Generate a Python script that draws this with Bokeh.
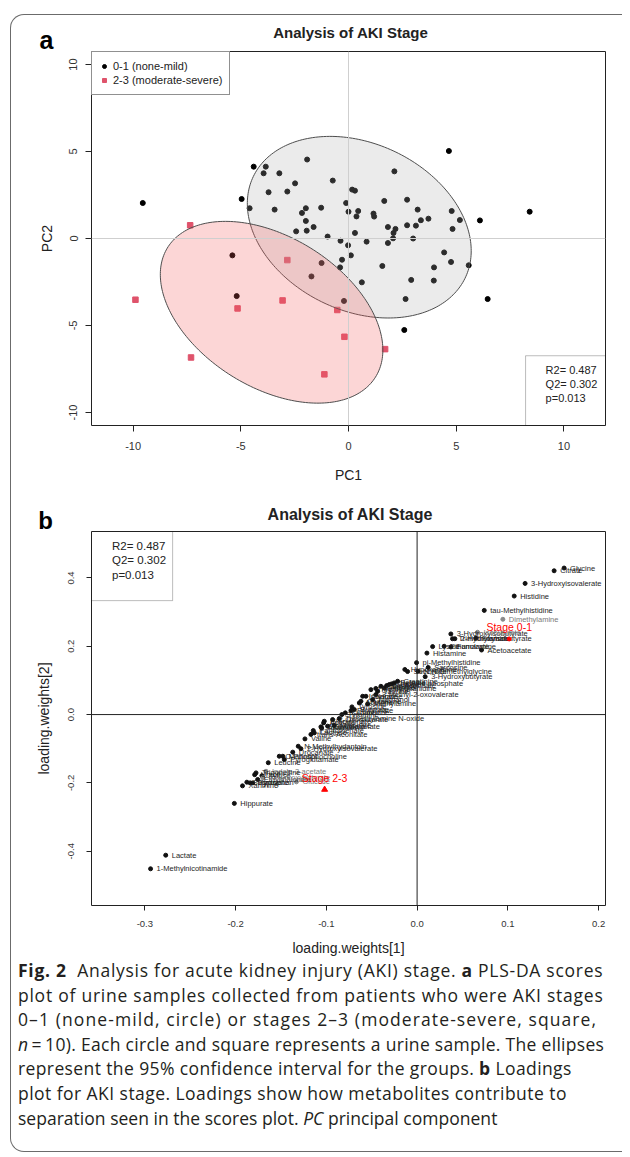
import numpy as np
from bokeh.plotting import figure
from bokeh.models import (ColumnDataSource, Range1d, FixedTicker, Label, BoxAnnotation,
                          Span, Legend, LegendItem, Div)
from bokeh.layouts import column
from bokeh.embed import file_html
from bokeh.resources import INLINE
from bokeh.core.properties import value

# ---------------- data: panel a (PLS-DA scores) ----------------
mild_pc1 = [-9.55, -4.40, -3.84, -3.94, -3.21, -1.92, -3.71, -2.84, -2.48, -4.96, -4.59, -3.43,
            -1.98, -2.16, -1.27, -0.73, 0.17, 0.30, -0.11, 0.00, 0.45, 0.37, -1.98, -2.43,
            -1.94, -1.62, -0.97, -0.37, -0.02, 0.30, 0.84, 1.16, 1.19, 1.66, 2.13, 1.83,
            1.83, 2.09, 2.18, 2.07, 2.72, 2.72, 3.21, 3.13, 3.36, 3.71, 3.00, 4.66,
            4.79, 5.17, 4.83, 4.44, 4.76, 3.97, 5.58, 6.10, 8.41, 1.57, 2.91, 3.96,
            0.11, -0.30, -0.39, -1.25, -1.72, 0.62, -5.39, -5.19, -0.21, 2.65, 6.46, 2.59]
mild_pc2 = [2.04, 4.13, 4.13, 3.75, 3.75, 4.54, 2.66, 2.70, 3.17, 2.27, 1.74, 1.66,
            1.74, 1.47, 1.77, 3.33, 2.81, 2.75, 2.04, 1.54, 1.58, 1.27, 1.01, 0.41,
            0.45, 0.66, 0.11, -0.13, -0.39, 0.32, -0.18, 1.43, 1.26, 2.16, 3.86, 0.66,
            -0.26, 0.32, 0.55, 0.01, 0.76, 2.23, 1.66, 0.74, 1.05, 1.14, 0.00, 5.03,
            1.58, 1.06, 0.55, -0.80, -1.35, -1.66, -1.54, 1.04, 1.54, -1.58, -2.38, -2.42,
            -0.97, -1.22, -1.66, -1.41, -2.18, -2.52, -0.97, -3.31, -3.59, -3.48, -3.48, -5.26]
severe_pc1 = [-7.35, -2.84, -9.89, -5.15, -3.06, -0.52, -0.19, 1.70, -7.31, -1.12]
severe_pc2 = [0.76, -1.24, -3.52, -4.02, -3.56, -4.11, -5.65, -6.36, -6.84, -7.81]

# 95% confidence ellipses (centre and shape matrix) for the two groups
ellipse_mild_center = [0.50, 0.65]
ellipse_mild_shape = [[27.0, -7.07], [-7.07, 27.25]]
ellipse_severe_center = [-3.57, -4.24]
ellipse_severe_shape = [[26.68, -11.21], [-11.21, 27.3]]

legend_labels = ["0-1 (none-mild)", "2-3 (moderate-severe)"]
stats_text = ["R2= 0.487", "Q2= 0.302", "p=0.013"]
pc_ticks = [-10, -5, 0, 5, 10]
pc_tick_labels = ["-10", "-5", "0", "5", "10"]
panel_title = "Analysis of AKI Stage"
panel_letters = ["a", "b"]

# ---------------- data: panel b (loadings) ----------------
metabolites = [
    "Glycine", "Citrate", "3-Hydroxyisovalerate", "Histidine", "tau-Methylhistidine", "Dimethylamine",
    "3-Hydroxyisobutyrate", "Isobutyrate", "Trimethylamine", "2-Hydroxyisobutyrate", "Formate",
    "Lysine", "Ethanolamine", "Fumarate", "Acetoacetate", "Histamine", "pi-Methylhistidine",
    "Sarcosine", "Hypoxanthine", "Succinate", "N,N-Dimethylglycine", "3-Hydroxybutyrate",
    "Creatine phosphate", "Creatinine", "Betaine", "Choline", "cis-Aconitate", "Carnitine", "Alanine",
    "Methylguanidine", "Threonine", "Taurine", "3-Methyl-2-oxovalerate", "Isoleucine", "Tartrate",
    "Methanol", "Glutamine", "Acetone", "Methylamine", "Tyrosine", "Butyrate", "Propionate",
    "Kynurenine", "Tyramine", "Trimethylamine N-oxide", "2-Oxoglutarate", "Glucuronate", "Acetate",
    "Glycolate", "Malonate", "Guanidoacetate", "Allantoin", "Pantothenate", "Lactose",
    "trans-Aconitate", "Valine", "N-Methylhydantoin", "2-Hydroxyisovalerate", "Urocanate",
    "O-Phosphocholine", "Mannitol", "Pyroglutamate", "Leucine", "Indole-3-acetate", "Xylose",
    "Trigonelline", "Uracil", "Ethylmalonate", "2-Hydroxybutyrate", "Glucose", "Pyruvate",
    "Tryptophan", "Sucrose", "Xanthine", "Hippurate", "Lactate", "1-Methylnicotinamide"]
weights_1 = [
    0.162, 0.151, 0.119, 0.107, 0.074, 0.0945,
    0.0372, 0.0666, 0.039, 0.0416, 0.0648,
    0.0171, 0.0298, 0.0372, 0.071, 0.0108, -0.0006,
    0.0122, -0.0135, -0.0105, 0.001, 0.0089,
    -0.0281, -0.0215, -0.0252, -0.0307, -0.0335, -0.0399, -0.0362,
    -0.0455, -0.0509, -0.0435, -0.0454, -0.060, -0.0564,
    -0.049, -0.0619, -0.0637, -0.0545, -0.0718, -0.0692, -0.0729,
    -0.0791, -0.083, -0.0858, -0.0931, -0.1023, -0.103,
    -0.0986, -0.0913, -0.106, -0.1052, -0.1144, -0.1133,
    -0.117, -0.1236, -0.131, -0.128, -0.137,
    -0.1519, -0.148, -0.1463, -0.164, -0.1665, -0.171,
    -0.1775, -0.179, -0.1757, -0.170, -0.133, -0.181,
    -0.184, -0.1876, -0.1924, -0.2014, -0.277, -0.2937]
weights_2 = [
    0.429, 0.421, 0.384, 0.347, 0.305, 0.279,
    0.236, 0.241, 0.222, 0.222, 0.224,
    0.199, 0.200, 0.198, 0.189, 0.180, 0.152,
    0.138, 0.132, 0.126, 0.127, 0.111,
    0.0898, 0.0975, 0.0927, 0.0878, 0.085, 0.0828, 0.078,
    0.0765, 0.073, 0.068, 0.0585, 0.0536, 0.0536,
    0.044, 0.039, 0.034, 0.031, 0.0225, 0.0146, 0.0117,
    0.005, 0.000, -0.0117, -0.0146, -0.0195, -0.0244,
    -0.034, -0.032, -0.036, -0.039, -0.0468, -0.0536,
    -0.058, -0.0712, -0.0927, -0.100, -0.110,
    -0.122, -0.122, -0.1317, -0.141, -0.166, -0.179,
    -0.1707, -0.176, -0.190, -0.185, -0.197, -0.200,
    -0.200, -0.198, -0.2087, -0.260, -0.4117, -0.4515]
grey_metabolites = ["Dimethylamine", "Isobutyrate", "Indole-3-acetate", "2-Hydroxybutyrate", "Glucose"]

stage_names = ["Stage 0-1", "Stage 2-3"]
stage_w1 = [0.1015, -0.1019]
stage_w2 = [0.2215, -0.2195]

lw_x_ticks = [-0.3, -0.2, -0.1, 0.0, 0.1, 0.2]
lw_x_labels = ["-0.3", "-0.2", "-0.1", "0.0", "0.1", "0.2"]
lw_y_ticks = [-0.4, -0.2, 0.0, 0.2, 0.4]
lw_y_labels = ["-0.4", "-0.2", "0.0", "0.2", "0.4"]

caption_lines = [
    "<b>Fig.&nbsp;2</b>&nbsp;&nbsp;Analysis for acute kidney injury (AKI) stage. <b>a</b> PLS-DA scores",
    "plot of urine samples collected from patients who were AKI stages",
    "0&ndash;1 (none-mild, circle) or stages 2&ndash;3 (moderate-severe, square,",
    "<i>n</i>&#8201;=&#8201;10). Each circle and square represents a urine sample. The ellipses",
    "represent the 95% confidence interval for the groups. <b>b</b> Loadings",
    "plot for AKI stage. Loadings show how metabolites contribute to",
    "separation seen in the scores plot. <i>PC</i> principal component"]
caption_spacing = [0.72, 0.75, 1.1, 0.3, 0.39, 0.45, 0.02]   # letter-spacing (px) per line

FONT = "Liberation Sans"
INK = "#222222"
W = 611


def ellipse_xy(center, shape, n=240):
    vals, vecs = np.linalg.eigh(np.array(shape, dtype=float))
    t = np.linspace(0, 2 * np.pi, n)
    circ = np.vstack([np.cos(t), np.sin(t)])
    pts = vecs @ (np.sqrt(vals)[:, None] * circ)
    return center[0] + pts[0], center[1] + pts[1]


def style_axes(p, tick_font, label_font, tick_out, xstand, ystand, ax_standoff_x, ax_standoff_y):
    p.grid.visible = False
    p.outline_line_color = INK
    p.outline_line_width = 1
    p.background_fill_color = "white"
    p.border_fill_color = "white"
    for ax in (p.xaxis[0], p.yaxis[0]):
        ax.axis_line_color = None
        ax.major_tick_line_color = INK
        ax.major_tick_in = 0
        ax.major_tick_out = tick_out
        ax.minor_tick_line_color = None
        ax.major_label_text_font = FONT
        ax.major_label_text_font_size = tick_font
        ax.major_label_text_color = "#333333"
        ax.axis_label_text_font = FONT
        ax.axis_label_text_font_size = label_font
        ax.axis_label_text_font_style = "normal"
        ax.axis_label_text_color = INK
    p.xaxis[0].major_label_standoff = xstand
    p.yaxis[0].major_label_standoff = ystand
    p.xaxis[0].axis_label_standoff = ax_standoff_x
    p.yaxis[0].axis_label_standoff = ax_standoff_y
    p.yaxis[0].major_label_orientation = "vertical"


def header_div(letter, letter_left, letter_top, letter_size, title_center, title_top, title_size, height):
    html = (
        f'<div style="position:relative;width:{W}px;height:{height}px;font-family:\'{FONT}\';color:{INK};">'
        f'<span style="position:absolute;left:{letter_left}px;top:{letter_top}px;width:22px;text-align:center;'
        f'font-size:{letter_size}px;line-height:{letter_size}px;font-weight:bold;color:#000;">{letter}</span>'
        f'<span style="position:absolute;left:{title_center - 120}px;top:{title_top}px;width:240px;'
        f'text-align:center;font-size:{title_size}px;line-height:{title_size}px;font-weight:bold;'
        f'white-space:nowrap;">{panel_title}</span></div>')
    return Div(text=html, width=W, height=height, margin=(0, 0, 0, 0))


# ======================= panel a =======================
head_a = header_div(panel_letters[0], 24.5, 12.8, 25, 339.5, 10, 15, 35)

pa = figure(width=W, height=437, x_range=Range1d(-11.93, 11.93), y_range=Range1d(-10.75, 10.75),
            output_backend="svg", toolbar_location=None, title=None,
            min_border_left=80, min_border_right=17, min_border_top=1, min_border_bottom=62)
style_axes(pa, "11px", "14px", 6, 10, 8, 14, 12)
pa.xaxis.axis_label = "PC1"
pa.yaxis.axis_label = "PC2"
pa.xaxis.ticker = FixedTicker(ticks=pc_ticks)
pa.yaxis.ticker = FixedTicker(ticks=pc_ticks)
pa.xaxis.major_label_overrides = dict(zip(pc_ticks, pc_tick_labels))
pa.yaxis.major_label_overrides = dict(zip(pc_ticks, pc_tick_labels))

pa.add_layout(Span(location=0, dimension="height", line_color="#cfcfcf", line_width=1))
pa.add_layout(Span(location=0, dimension="width", line_color="#cfcfcf", line_width=1))

r_mild = pa.scatter(mild_pc1, mild_pc2, marker="circle", size=5, color="black")
r_sev = pa.scatter(severe_pc1, severe_pc2, marker="square", size=5.5, color="#DF536B")

ex, ey = ellipse_xy(ellipse_mild_center, ellipse_mild_shape)
pa.patch(ex, ey, fill_color="#b0b0b0", fill_alpha=0.25, line_color="#4d4d4d", line_width=1)
ex, ey = ellipse_xy(ellipse_severe_center, ellipse_severe_shape)
pa.patch(ex, ey, fill_color="#f25c5c", fill_alpha=0.25, line_color="#4d4d4d", line_width=1)

leg = Legend(items=[LegendItem(label=legend_labels[0], renderers=[r_mild]),
                    LegendItem(label=legend_labels[1], renderers=[r_sev])],
             location="top_left", margin=0, padding=7, spacing=0, glyph_width=10, glyph_height=14,
             label_height=14, label_standoff=4, label_text_font=FONT, label_text_font_size="11px",
             label_text_color=INK, border_line_color=INK, border_line_width=1,
             background_fill_alpha=1)
pa.add_layout(leg)

pa.add_layout(BoxAnnotation(left=8.22, right=11.93, top=-6.74, bottom=-10.75, fill_alpha=0,
                            line_color=INK, line_width=1))
for i, s in enumerate(stats_text):
    pa.add_layout(Label(x=9.15, y=-7.54 - 0.82 * i, text=s, text_font=FONT, text_font_size="11px",
                        text_color=INK, text_baseline="middle"))

# ======================= panel b =======================
head_b = header_div(panel_letters[1], 23.5, 21.7, 24, 339, 19.5, 16, 43)

pb = figure(width=W, height=428, x_range=Range1d(-0.3588, 0.2076), y_range=Range1d(-0.559, 0.536),
            output_backend="svg", toolbar_location=None, title=None,
            min_border_left=79, min_border_right=17, min_border_top=1, min_border_bottom=53)
style_axes(pb, "9.5px", "14px", 5, 10, 12, 10, 14)
pb.xaxis.axis_label = "loading.weights[1]"
pb.yaxis.axis_label = "loading.weights[2]"
pb.xaxis.ticker = FixedTicker(ticks=lw_x_ticks)
pb.yaxis.ticker = FixedTicker(ticks=lw_y_ticks)
pb.xaxis.major_label_overrides = dict(zip(lw_x_ticks, lw_x_labels))
pb.yaxis.major_label_overrides = dict(zip(lw_y_ticks, lw_y_labels))

pb.add_layout(Span(location=0, dimension="height", line_color=INK, line_width=1))
pb.add_layout(Span(location=0, dimension="width", line_color=INK, line_width=1))

colors = ["#8a8a8a" if m in grey_metabolites else "#111111" for m in metabolites]
tcolors = ["#7a7a7a" if m in grey_metabolites else "#1e1e1e" for m in metabolites]
src = ColumnDataSource(dict(x=weights_1, y=weights_2, name=metabolites, c=colors, tc=tcolors))
pb.scatter("x", "y", source=src, marker="circle", size=4, color="c")
pb.text("x", "y", text="name", source=src, x_offset=6, text_baseline="middle",
        text_font=value(FONT), text_font_size="7.5px", text_color="tc")

st = ColumnDataSource(dict(x=stage_w1, y=stage_w2, name=stage_names, m=["circle", "triangle"],
                           s=[4, 6]))
pb.scatter("x", "y", source=st, marker="m", size="s", color="#ff0000")
pb.text("x", "y", text="name", source=st, y_offset=-12, text_align="center", text_baseline="middle",
        text_font=value(FONT), text_font_size="10.5px", text_color="#ff0000")

pb.add_layout(BoxAnnotation(left=-0.3588, right=-0.2694, top=0.536, bottom=0.3336, fill_alpha=0,
                            line_color=INK, line_width=1))
for i, s in enumerate(stats_text):
    pb.add_layout(Label(x=-0.3362, y=0.4925 - 0.0414 * i, text=s, text_font=FONT,
                        text_font_size="11.5px", text_color=INK, text_baseline="middle"))

# ======================= caption =======================
caption_html = "".join(
    f'<div style="letter-spacing:{ls}px;">{line}</div>' for line, ls in zip(caption_lines, caption_spacing))
cap = Div(text=caption_html, width=W, height=193, margin=(0, 0, 0, 0),
          styles={"font-family": "Open Sans", "font-size": "17.5px", "line-height": "24.6px",
                  "color": "#231f20", "padding-left": "7px", "white-space": "nowrap"})

root = column(head_a, pa, head_b, pb, cap,
              styles={"border-left": "1.5px solid #6b6b6b", "border-top": "1.5px solid #6b6b6b",
                      "border-bottom": "1.5px solid #6b6b6b", "border-radius": "14px 0 0 14px",
                      "margin-left": "10px", "margin-top": "14px"})

open("out.html", "w").write(file_html(root, INLINE))
